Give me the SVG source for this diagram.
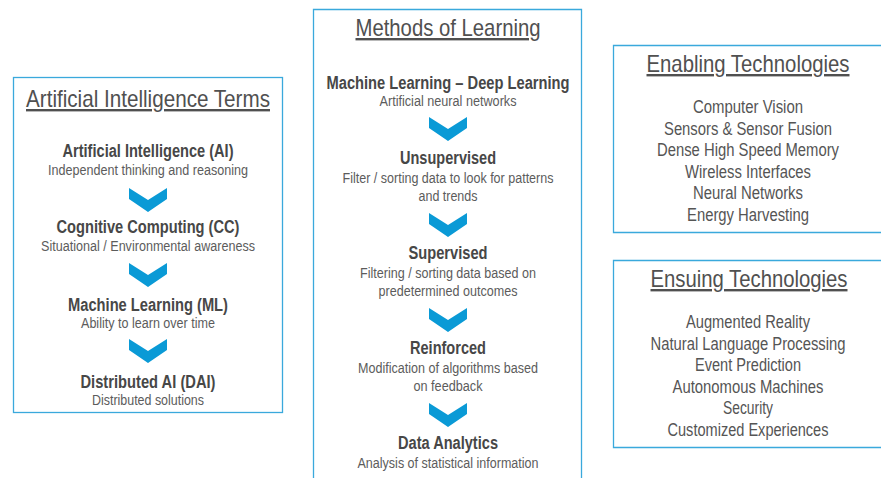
<svg xmlns="http://www.w3.org/2000/svg" xmlns:xlink="http://www.w3.org/1999/xlink" width="881" height="478" viewBox="0 0 881 478">
<style>
text{font-family:"Liberation Sans Narrow","Liberation Sans",Arial,sans-serif;text-anchor:middle}
.box{fill:#fff;stroke:#3aa9dc;stroke-width:1.3}
.ttl{font-size:24px;fill:#505050;text-decoration:underline}
.itm{font-size:18px;fill:#474747;font-weight:bold}
.sub{font-size:15.3px;fill:#5c5c5c}
.lst{font-size:18.3px;fill:#555}
.chev{fill:#0a9ad6}
</style>
<defs>
<path id="chev" d="M-19,0 L0,12 L19,0 L19,11 L0,24 L-19,11 Z"/>
</defs>
<rect width="881" height="478" fill="#fff"/>

<g id="ai-terms">
<rect class="box" x="13.5" y="77.5" width="269" height="335"/>
<text class="ttl" x="148" y="107" textLength="244" lengthAdjust="spacingAndGlyphs">Artificial Intelligence Terms</text>
<text class="itm" x="148" y="157" textLength="171" lengthAdjust="spacingAndGlyphs">Artificial Intelligence (AI)</text>
<text class="sub" x="148" y="175" textLength="200" lengthAdjust="spacingAndGlyphs">Independent thinking and reasoning</text>
<text class="itm" x="148" y="233" textLength="183" lengthAdjust="spacingAndGlyphs">Cognitive Computing (CC)</text>
<text class="sub" x="148" y="251" textLength="214" lengthAdjust="spacingAndGlyphs">Situational / Environmental awareness</text>
<text class="itm" x="148" y="311" textLength="160" lengthAdjust="spacingAndGlyphs">Machine Learning (ML)</text>
<text class="sub" x="148" y="328" textLength="134" lengthAdjust="spacingAndGlyphs">Ability to learn over time</text>
<text class="itm" x="148" y="388" textLength="135" lengthAdjust="spacingAndGlyphs">Distributed AI (DAI)</text>
<text class="sub" x="148" y="405" textLength="112" lengthAdjust="spacingAndGlyphs">Distributed solutions</text>
</g>

<g id="methods">
<path class="box" d="M313.5,478 V9.5 H581.5 V478"/>
<text class="ttl" x="448" y="36" textLength="185" lengthAdjust="spacingAndGlyphs">Methods of Learning</text>
<text class="itm" x="448" y="89" textLength="243" lengthAdjust="spacingAndGlyphs">Machine Learning – Deep Learning</text>
<text class="sub" x="448" y="106" textLength="137" lengthAdjust="spacingAndGlyphs">Artificial neural networks</text>
<text class="itm" x="448" y="164" textLength="96" lengthAdjust="spacingAndGlyphs">Unsupervised</text>
<text class="sub" x="448" y="183" textLength="211" lengthAdjust="spacingAndGlyphs">Filter / sorting data to look for patterns</text>
<text class="sub" x="448" y="201" textLength="59" lengthAdjust="spacingAndGlyphs">and trends</text>
<text class="itm" x="448" y="259" textLength="79" lengthAdjust="spacingAndGlyphs">Supervised</text>
<text class="sub" x="448" y="278" textLength="176" lengthAdjust="spacingAndGlyphs">Filtering / sorting data based on</text>
<text class="sub" x="448" y="296" textLength="139" lengthAdjust="spacingAndGlyphs">predetermined outcomes</text>
<text class="itm" x="448" y="354" textLength="76" lengthAdjust="spacingAndGlyphs">Reinforced</text>
<text class="sub" x="448" y="373" textLength="180" lengthAdjust="spacingAndGlyphs">Modification of algorithms based</text>
<text class="sub" x="448" y="391" textLength="69" lengthAdjust="spacingAndGlyphs">on feedback</text>
<text class="itm" x="448" y="449" textLength="100" lengthAdjust="spacingAndGlyphs">Data Analytics</text>
<text class="sub" x="448" y="468" textLength="181" lengthAdjust="spacingAndGlyphs">Analysis of statistical information</text>
</g>

<g id="enabling">
<path class="box" d="M881,45.5 H613.5 V232.5 H881"/>
<text class="ttl" x="748" y="72" textLength="203" lengthAdjust="spacingAndGlyphs">Enabling Technologies</text>
<text class="lst" x="748" y="113" textLength="110" lengthAdjust="spacingAndGlyphs">Computer Vision</text>
<text class="lst" x="748" y="135" textLength="168" lengthAdjust="spacingAndGlyphs">Sensors &amp; Sensor Fusion</text>
<text class="lst" x="748" y="156" textLength="182" lengthAdjust="spacingAndGlyphs">Dense High Speed Memory</text>
<text class="lst" x="748" y="178" textLength="126" lengthAdjust="spacingAndGlyphs">Wireless Interfaces</text>
<text class="lst" x="748" y="199" textLength="110" lengthAdjust="spacingAndGlyphs">Neural Networks</text>
<text class="lst" x="748" y="221" textLength="122" lengthAdjust="spacingAndGlyphs">Energy Harvesting</text>
</g>

<g id="ensuing">
<path class="box" d="M881,260.5 H613.5 V447.5 H881"/>
<text class="ttl" x="749" y="287" textLength="197" lengthAdjust="spacingAndGlyphs">Ensuing Technologies</text>
<text class="lst" x="748" y="328" textLength="124" lengthAdjust="spacingAndGlyphs">Augmented Reality</text>
<text class="lst" x="748" y="350" textLength="195" lengthAdjust="spacingAndGlyphs">Natural Language Processing</text>
<text class="lst" x="748" y="371" textLength="106" lengthAdjust="spacingAndGlyphs">Event Prediction</text>
<text class="lst" x="748" y="393" textLength="151" lengthAdjust="spacingAndGlyphs">Autonomous Machines</text>
<text class="lst" x="748" y="414" textLength="50" lengthAdjust="spacingAndGlyphs">Security</text>
<text class="lst" x="748" y="436" textLength="161" lengthAdjust="spacingAndGlyphs">Customized Experiences</text>
</g>

<g id="connectors">
<use href="#chev" class="chev" x="148" y="188"/>
<use href="#chev" class="chev" x="148" y="263"/>
<use href="#chev" class="chev" x="148" y="339"/>
<use href="#chev" class="chev" x="448" y="117"/>
<use href="#chev" class="chev" x="448" y="213"/>
<use href="#chev" class="chev" x="448" y="308"/>
<use href="#chev" class="chev" x="448" y="403"/>
</g>
</svg>
